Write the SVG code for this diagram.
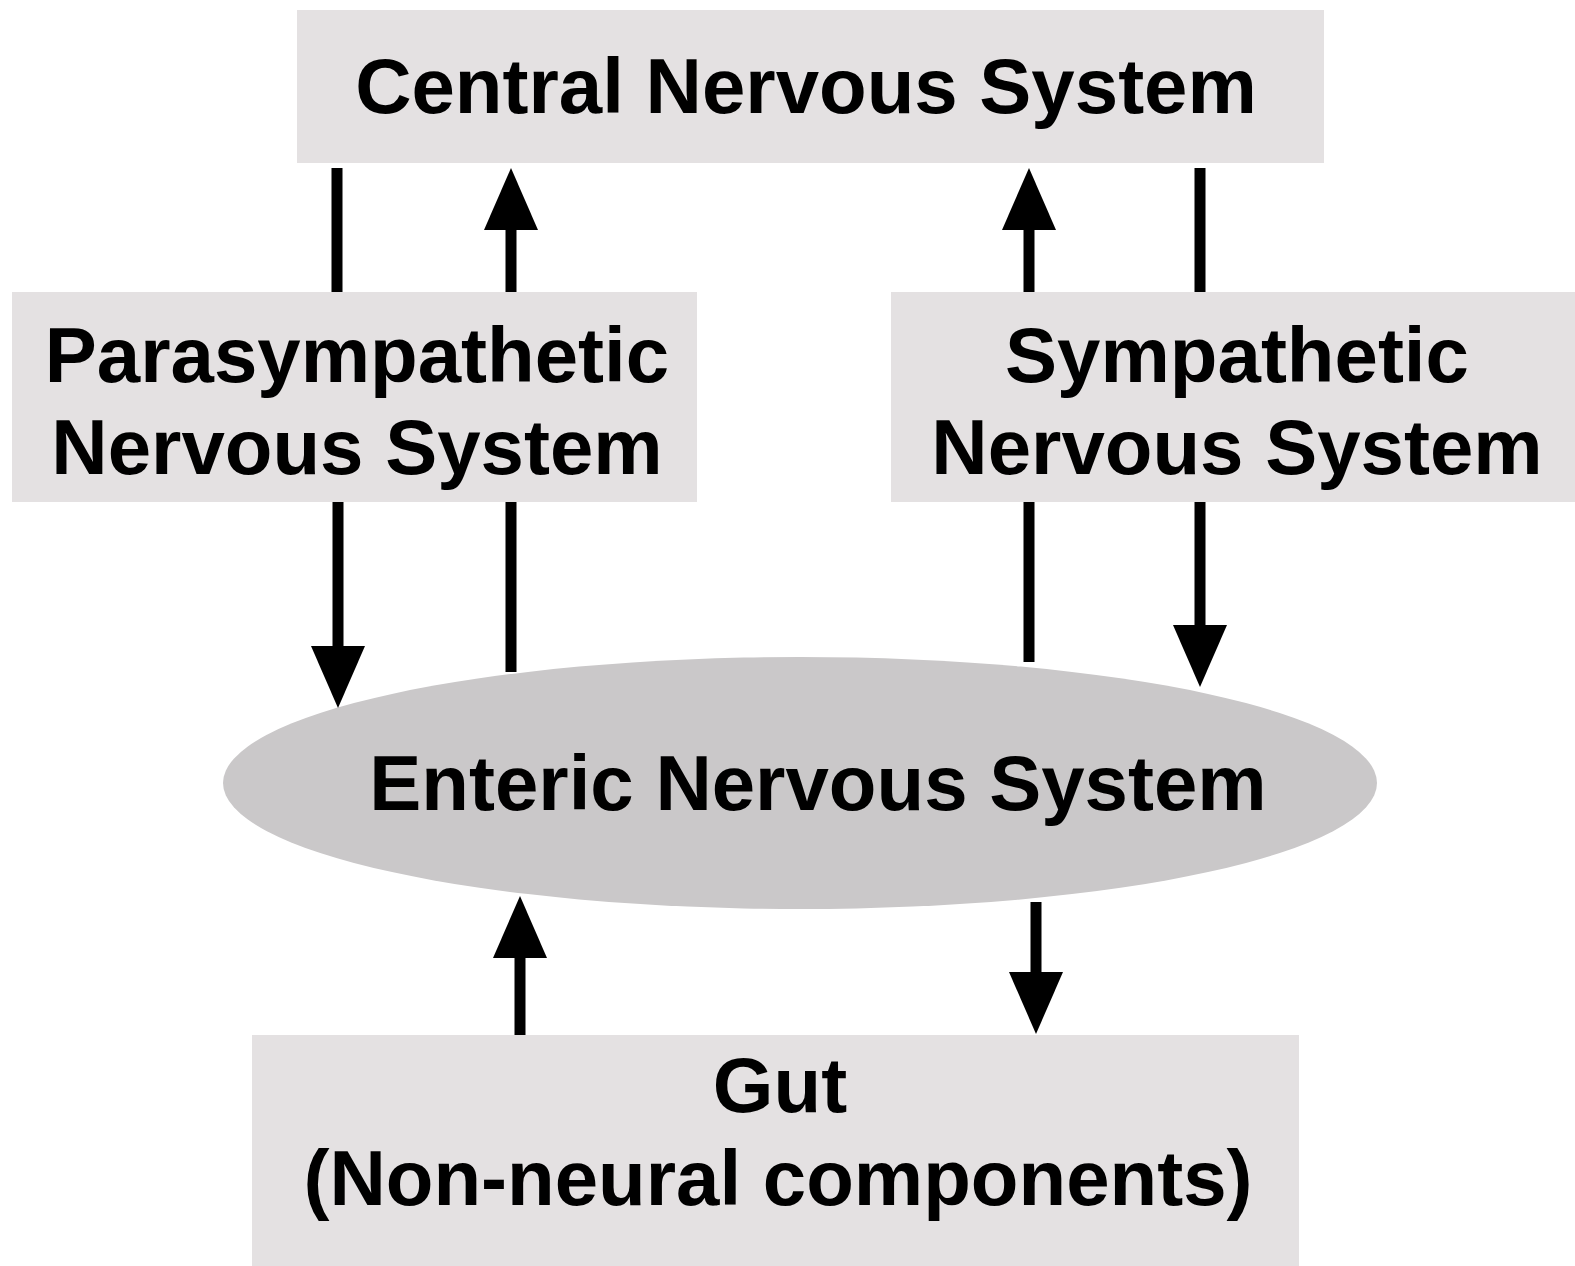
<svg xmlns="http://www.w3.org/2000/svg" width="1575" height="1266" viewBox="0 0 1575 1266">
<defs>
<style>
.box{fill:#e4e1e2}
.ell{fill:#cac8c9}
.t{font-family:"Liberation Sans",Arial,sans-serif;font-weight:bold;font-size:78px;fill:#000;text-anchor:middle}
.c{stroke:#000;stroke-width:11;fill:none}
</style>
<marker id="ah" markerUnits="userSpaceOnUse" markerWidth="64" markerHeight="56" refX="1" refY="27" orient="auto" viewBox="0 0 64 56">
<path d="M0,0 L62,27 L0,54 z" fill="#000"/>
</marker>
</defs>
<rect width="1575" height="1266" fill="#fff"/>
<g id="cns">
<rect class="box" x="297" y="10" width="1027" height="153"/>
<text class="t" x="806" y="113">Central Nervous System</text>
</g>
<g id="psns">
<rect class="box" x="12" y="292" width="685" height="210"/>
<text class="t" x="357" y="382">Parasympathetic</text>
<text class="t" x="357" y="474">Nervous System</text>
</g>
<g id="sns">
<rect class="box" x="891" y="292" width="684" height="210"/>
<text class="t" x="1237" y="382">Sympathetic</text>
<text class="t" x="1237" y="474">Nervous System</text>
</g>
<g id="ens">
<ellipse class="ell" cx="800" cy="783" rx="577" ry="126"/>
<text class="t" x="818" y="810">Enteric Nervous System</text>
</g>
<g id="gut">
<rect class="box" x="252" y="1035" width="1047" height="231"/>
<text class="t" x="780" y="1112">Gut</text>
<text class="t" x="778" y="1205">(Non-neural components)</text>
</g>
<g id="connectors">
<line class="c" x1="337" y1="168" x2="337" y2="292"/>
<line class="c" x1="338" y1="502" x2="338" y2="647" marker-end="url(#ah)"/>
<line class="c" x1="511" y1="292" x2="511" y2="229" marker-end="url(#ah)"/>
<line class="c" x1="511" y1="672" x2="511" y2="502"/>
<line class="c" x1="1029" y1="292" x2="1029" y2="229" marker-end="url(#ah)"/>
<line class="c" x1="1029" y1="662" x2="1029" y2="502"/>
<line class="c" x1="1200" y1="168" x2="1200" y2="292"/>
<line class="c" x1="1200" y1="502" x2="1200" y2="626" marker-end="url(#ah)"/>
<line class="c" x1="520" y1="1035" x2="520" y2="957" marker-end="url(#ah)"/>
<line class="c" x1="1036" y1="902" x2="1036" y2="973" marker-end="url(#ah)"/>
</g>
</svg>
